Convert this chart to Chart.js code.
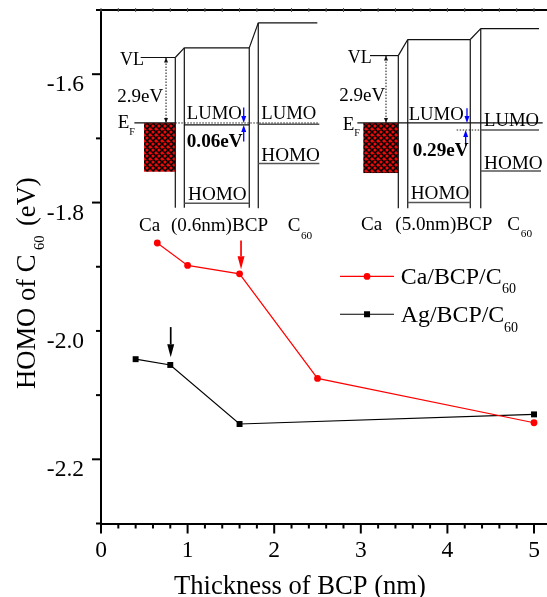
<!DOCTYPE html>
<html>
<head>
<meta charset="utf-8">
<style>
    html, body { margin: 0; padding: 0; background: #fff; overflow: hidden; }
    canvas { display: block; }
</style>
<script src="https://cdn.jsdelivr.net/npm/chart.js@4"></script>
</head>
<body>
<canvas id="chart" width="547" height="597"></canvas>
<script>
const caThickness = [0.65, 1.0, 1.6, 2.5, 5.0];
const caHomo = [-1.863, -1.898, -1.911, -2.074, -2.143];
const agThickness = [0.4, 0.8, 1.6, 5.0];
const agHomo = [-2.044, -2.053, -2.145, -2.130];

const xTickLabels = ['0', '1', '2', '3', '4', '5'];
const yTickLabels = ['-1.6', '-1.8', '-2.0', '-2.2'];

// the two band diagrams, in axis units: [x1, y1, x2, y2]
const insetLines = [
    [0.458, -1.574, 0.858, -1.574], [0.858, -1.574, 0.962, -1.559], [0.962, -1.559, 1.712, -1.559],
    [1.712, -1.559, 1.816, -1.520], [1.816, -1.520, 2.498, -1.520],
    [0.858, -1.574, 0.858, -1.808], [0.962, -1.559, 0.962, -1.808],
    [1.712, -1.559, 1.712, -1.808], [1.816, -1.520, 1.816, -1.809],
    [0.385, -1.676, 0.858, -1.676], [0.962, -1.679, 1.712, -1.679],
    [3.106, -1.571, 3.433, -1.571], [3.433, -1.571, 3.542, -1.546], [3.542, -1.546, 4.264, -1.546],
    [4.264, -1.546, 4.385, -1.529], [4.385, -1.529, 5.058, -1.529],
    [3.433, -1.571, 3.433, -1.809], [3.542, -1.546, 3.542, -1.809],
    [4.264, -1.546, 4.264, -1.809], [4.385, -1.529, 4.385, -1.809],
    [2.960, -1.676, 5.100, -1.676]
];
const insetGreyLines = [
    [1.816, -1.678, 2.521, -1.678], [1.816, -1.739, 2.521, -1.739], [0.962, -1.801, 1.712, -1.801],
    [4.385, -1.687, 5.058, -1.687], [4.385, -1.751, 5.081, -1.751], [3.542, -1.800, 4.264, -1.800]
];
const insetDottedLines = [
    [0.858, -1.676, 2.521, -1.676], [4.107, -1.687, 4.385, -1.687]
];
const insetBlocks = [
    [0.497, -1.676, 0.858, -1.752],
    [3.029, -1.676, 3.433, -1.754]
];
const vlArrows = [
    [0.751, -1.574, -1.676],
    [3.291, -1.571, -1.676]
];
const blueArrows = [
    [1.648, -1.652, -1.676], [1.648, -1.705, -1.679],
    [4.226, -1.653, -1.676], [4.211, -1.712, -1.687]
];
// [text, x, y, size, bold]
const insetTexts = [
    ['VL', 0.219, -1.586, 18], ['2.9eV', 0.188, -1.643, 19], ['E', 0.193, -1.684, 19], ['F', 0.327, -1.694, 10],
    ['LUMO', 0.990, -1.670, 18.7], ['LUMO', 1.851, -1.670, 18.7], ['0.06eV', 0.990, -1.714, 19.2, true],
    ['HOMO', 1.851, -1.735, 19.2], ['HOMO', 1.005, -1.796, 19.2],
    ['Ca', 0.439, -1.844, 19], ['(0.6nm)BCP', 0.808, -1.844, 19.1], ['C', 2.156, -1.844, 19], ['60', 2.309, -1.856, 11.3],
    ['VL', 2.849, -1.582, 18], ['2.9eV', 2.752, -1.642, 19], ['E', 2.791, -1.687, 19], ['F', 2.925, -1.696, 10],
    ['LUMO', 3.553, -1.672, 18.7], ['LUMO', 4.423, -1.681, 18.7], ['0.29eV', 3.599, -1.727, 19.2, true],
    ['HOMO', 4.423, -1.747, 19.2], ['HOMO', 3.576, -1.795, 19.2],
    ['Ca', 3.002, -1.842, 19], ['(5.0nm)BCP', 3.398, -1.842, 19.1], ['C', 4.692, -1.842, 19], ['60', 4.847, -1.854, 11.3]
];

// arrows pointing at the chosen points: [x, from y, to y, colour]
const pointerArrows = [
    [1.617, -1.859, -1.904, '#ff0000'],
    [0.805, -1.994, -2.041, '#000000']
];

const legendRows = [
    { label: 'Ca/BCP/C', sub: '60', color: '#ff0000', style: 'circle', lineY: -1.915, textY: -1.927, subX: 4.630, subY: -1.941 },
    { label: 'Ag/BCP/C', sub: '60', color: '#000000', style: 'rect', lineY: -1.974, textY: -1.986, subX: 4.654, subY: -2.001 }
];

const serif = '"Liberation Serif", "Times New Roman", serif';

const isMultiple = (value, step) => Math.abs(value / step - Math.round(value / step)) < 1e-6;

const fixScaleBox = (scale, width, height) => {
    if (width) scale.width = width;
    if (height) scale.height = height;
    scale.paddingTop = 0;
    scale.paddingBottom = 0;
    scale.paddingLeft = 0;
    scale.paddingRight = 0;
};

const makeHatch = (ctx) => {
    const tile = document.createElement('canvas');
    tile.width = 6;
    tile.height = 6;
    const t = tile.getContext('2d');
    t.fillStyle = '#ee0a0a';
    t.fillRect(0, 0, 6, 6);
    t.strokeStyle = '#000';
    t.lineWidth = 1.5;
    t.beginPath();
    t.moveTo(-1, -1); t.lineTo(7, 7);
    t.moveTo(-1, 5); t.lineTo(1, 7);
    t.moveTo(5, -1); t.lineTo(7, 1);
    t.moveTo(-1, 7); t.lineTo(7, -1);
    t.moveTo(-1, 1); t.lineTo(1, -1);
    t.moveTo(5, 7); t.lineTo(7, 5);
    t.stroke();
    return ctx.createPattern(tile, 'repeat');
};

const drawArrow = (ctx, x, y0, y1, color, lineWidth, headLength, headWidth) => {
    const dir = y1 > y0 ? 1 : -1;
    ctx.strokeStyle = color;
    ctx.fillStyle = color;
    ctx.lineWidth = lineWidth;
    ctx.beginPath();
    ctx.moveTo(x, y0);
    ctx.lineTo(x, y1 - dir * headLength);
    ctx.stroke();
    ctx.beginPath();
    ctx.moveTo(x, y1);
    ctx.lineTo(x - headWidth / 2, y1 - dir * headLength);
    ctx.lineTo(x + headWidth / 2, y1 - dir * headLength);
    ctx.closePath();
    ctx.fill();
};

const frameTicks = {
    id: 'frameTicks',
    afterDraw(chart) {
        const { ctx, chartArea, scales } = chart;
        ctx.save();
        ctx.strokeStyle = '#000';
        ctx.lineWidth = 2;
        ctx.beginPath();
        ctx.moveTo(chartArea.left - 5, chartArea.top);
        ctx.lineTo(chartArea.right, chartArea.top);
        ctx.stroke();
        scales.y.ticks.forEach(tick => {
            const y = scales.y.getPixelForValue(tick.value);
            const length = isMultiple(tick.value, 0.2) && !isMultiple(tick.value, 0.5) ? 9 : 5;
            ctx.beginPath();
            ctx.moveTo(chartArea.left, y);
            ctx.lineTo(chartArea.left - length, y);
            ctx.stroke();
        });
        scales.x.ticks.forEach(tick => {
            const x = scales.x.getPixelForValue(tick.value);
            const length = isMultiple(tick.value, 1) ? 10 : 5;
            ctx.lineWidth = 2;
            ctx.beginPath();
            ctx.moveTo(x, chartArea.bottom);
            ctx.lineTo(x, chartArea.bottom + length);
            ctx.stroke();
            ctx.lineWidth = 1;
            ctx.strokeStyle = '#555';
            ctx.beginPath();
            ctx.moveTo(x, chartArea.top - 2);
            ctx.lineTo(x, chartArea.top + 2);
            ctx.stroke();
            ctx.strokeStyle = '#000';
        });
        ctx.restore();
    }
};

const bandDiagrams = {
    id: 'bandDiagrams',
    afterDatasetsDraw(chart) {
        const { ctx, scales } = chart;
        const px = v => scales.x.getPixelForValue(v);
        const py = v => scales.y.getPixelForValue(v);
        const segments = (list, color, width, dash) => {
            ctx.strokeStyle = color;
            ctx.lineWidth = width;
            ctx.setLineDash(dash);
            list.forEach(([x1, y1, x2, y2]) => {
                ctx.beginPath();
                ctx.moveTo(px(x1), py(y1));
                ctx.lineTo(px(x2), py(y2));
                ctx.stroke();
            });
            ctx.setLineDash([]);
        };

        ctx.save();
        ctx.fillStyle = makeHatch(ctx);
        insetBlocks.forEach(([x1, y1, x2, y2]) => {
            ctx.fillRect(px(x1), py(y1), px(x2) - px(x1), py(y2) - py(y1));
        });
        segments(insetLines, '#111', 1.2, []);
        segments(insetGreyLines, '#555', 1.5, []);
        segments(insetDottedLines, '#222', 1, [1.5, 1.5]);

        vlArrows.forEach(([x, y0, y1]) => {
            ctx.strokeStyle = '#111';
            ctx.lineWidth = 1;
            ctx.setLineDash([1.5, 1.5]);
            ctx.beginPath();
            ctx.moveTo(px(x), py(y0));
            ctx.lineTo(px(x), py(y1));
            ctx.stroke();
            ctx.setLineDash([]);
            drawArrow(ctx, px(x), py(y0) + 5, py(y0), '#111', 1, 5, 4);
            drawArrow(ctx, px(x), py(y1) - 5, py(y1), '#111', 1, 5, 4);
        });
        blueArrows.forEach(([x, y0, y1]) => {
            drawArrow(ctx, px(x), py(y0), py(y1), '#0000ff', 1.3, 7, 5);
        });
        pointerArrows.forEach(([x, y0, y1, color]) => {
            drawArrow(ctx, px(x), py(y0), py(y1), color, 1.7, 13, 7);
        });

        ctx.textBaseline = 'alphabetic';
        ctx.textAlign = 'left';
        ctx.fillStyle = '#000';
        insetTexts.forEach(([text, x, y, size, bold]) => {
            ctx.font = `${bold ? 'bold ' : ''}${size}px ${serif}`;
            ctx.fillText(text, px(x), py(y));
        });
        ctx.restore();
    }
};

const legendAndTitles = {
    id: 'legendAndTitles',
    afterDraw(chart) {
        const { ctx, scales } = chart;
        const px = v => scales.x.getPixelForValue(v);
        const py = v => scales.y.getPixelForValue(v);

        ctx.save();
        ctx.textBaseline = 'alphabetic';
        ctx.textAlign = 'left';
        legendRows.forEach(row => {
            ctx.strokeStyle = row.color;
            ctx.fillStyle = row.color;
            ctx.lineWidth = 1.2;
            ctx.beginPath();
            ctx.moveTo(px(2.76), py(row.lineY));
            ctx.lineTo(px(3.383), py(row.lineY));
            ctx.stroke();
            if (row.style === 'circle') {
                ctx.beginPath();
                ctx.arc(px(3.072), py(row.lineY), 3.4, 0, Math.PI * 2);
                ctx.fill();
            } else {
                ctx.fillRect(px(3.072) - 3, py(row.lineY) - 3, 6, 6);
            }
            ctx.fillStyle = '#000';
            ctx.font = `23.9px ${serif}`;
            ctx.fillText(row.label, px(3.461), py(row.textY));
            ctx.font = `14px ${serif}`;
            ctx.fillText(row.sub, px(row.subX), py(row.subY));
        });

        ctx.fillStyle = '#000';
        ctx.font = `26.6px ${serif}`;
        ctx.fillText('Thickness of BCP (nm)', 174, 594);

        ctx.translate(35, 389);
        ctx.rotate(-Math.PI / 2);
        ctx.fillText('HOMO of C', 0, 0);
        ctx.fillText('(eV)', 163, 0);
        ctx.font = `14.5px ${serif}`;
        ctx.fillText('60', 139, 9);
        ctx.restore();
    }
};

new Chart(document.getElementById('chart'), {
    type: 'scatter',
    data: {
        datasets: [
            {
                label: 'Ca/BCP/C60',
                data: caThickness.map((x, i) => ({ x, y: caHomo[i] })),
                showLine: true,
                borderColor: '#ff0000',
                backgroundColor: '#ff0000',
                borderWidth: 1.2,
                pointStyle: 'circle',
                pointRadius: 3.4,
                pointBorderWidth: 0,
                clip: false
            },
            {
                label: 'Ag/BCP/C60',
                data: agThickness.map((x, i) => ({ x, y: agHomo[i] })),
                showLine: true,
                borderColor: '#000000',
                backgroundColor: '#000000',
                borderWidth: 1.2,
                pointStyle: 'rect',
                pointRadius: 4.2,
                pointBorderWidth: 0,
                clip: false
            }
        ]
    },
    options: {
        responsive: false,
        animation: false,
        layout: { autoPadding: false, padding: { top: 10, left: 0, right: 0, bottom: 0 } },
        plugins: {
            legend: { display: false },
            tooltip: { enabled: false }
        },
        scales: {
            x: {
                type: 'linear',
                min: 0,
                max: 5.15,
                afterFit: scale => fixScaleBox(scale, 0, 73.5),
                border: { display: true, color: '#000', width: 2 },
                grid: { display: false, drawTicks: false },
                ticks: {
                    stepSize: 0.2,
                    includeBounds: false,
                    autoSkip: false,
                    maxRotation: 0,
                    padding: 13,
                    color: '#000',
                    font: { family: serif, size: 23.5 },
                    callback: value => (isMultiple(value, 1) ? xTickLabels[Math.round(value)] : '')
                }
            },
            y: {
                type: 'linear',
                min: -2.3,
                max: -1.5,
                afterFit: scale => fixScaleBox(scale, 101, 0),
                border: { display: true, color: '#000', width: 2 },
                grid: { display: false, drawTicks: false },
                ticks: {
                    stepSize: 0.1,
                    autoSkip: false,
                    padding: 17,
                    labelOffset: 11,
                    color: '#000',
                    font: { family: serif, size: 23.5 },
                    callback: value => {
                        const index = Math.round((-1.6 - value) / 0.2);
                        return isMultiple(value, 0.2) && yTickLabels[index] ? yTickLabels[index] : '';
                    }
                }
            }
        }
    },
    plugins: [bandDiagrams, frameTicks, legendAndTitles]
});
</script>
</body>
</html>
